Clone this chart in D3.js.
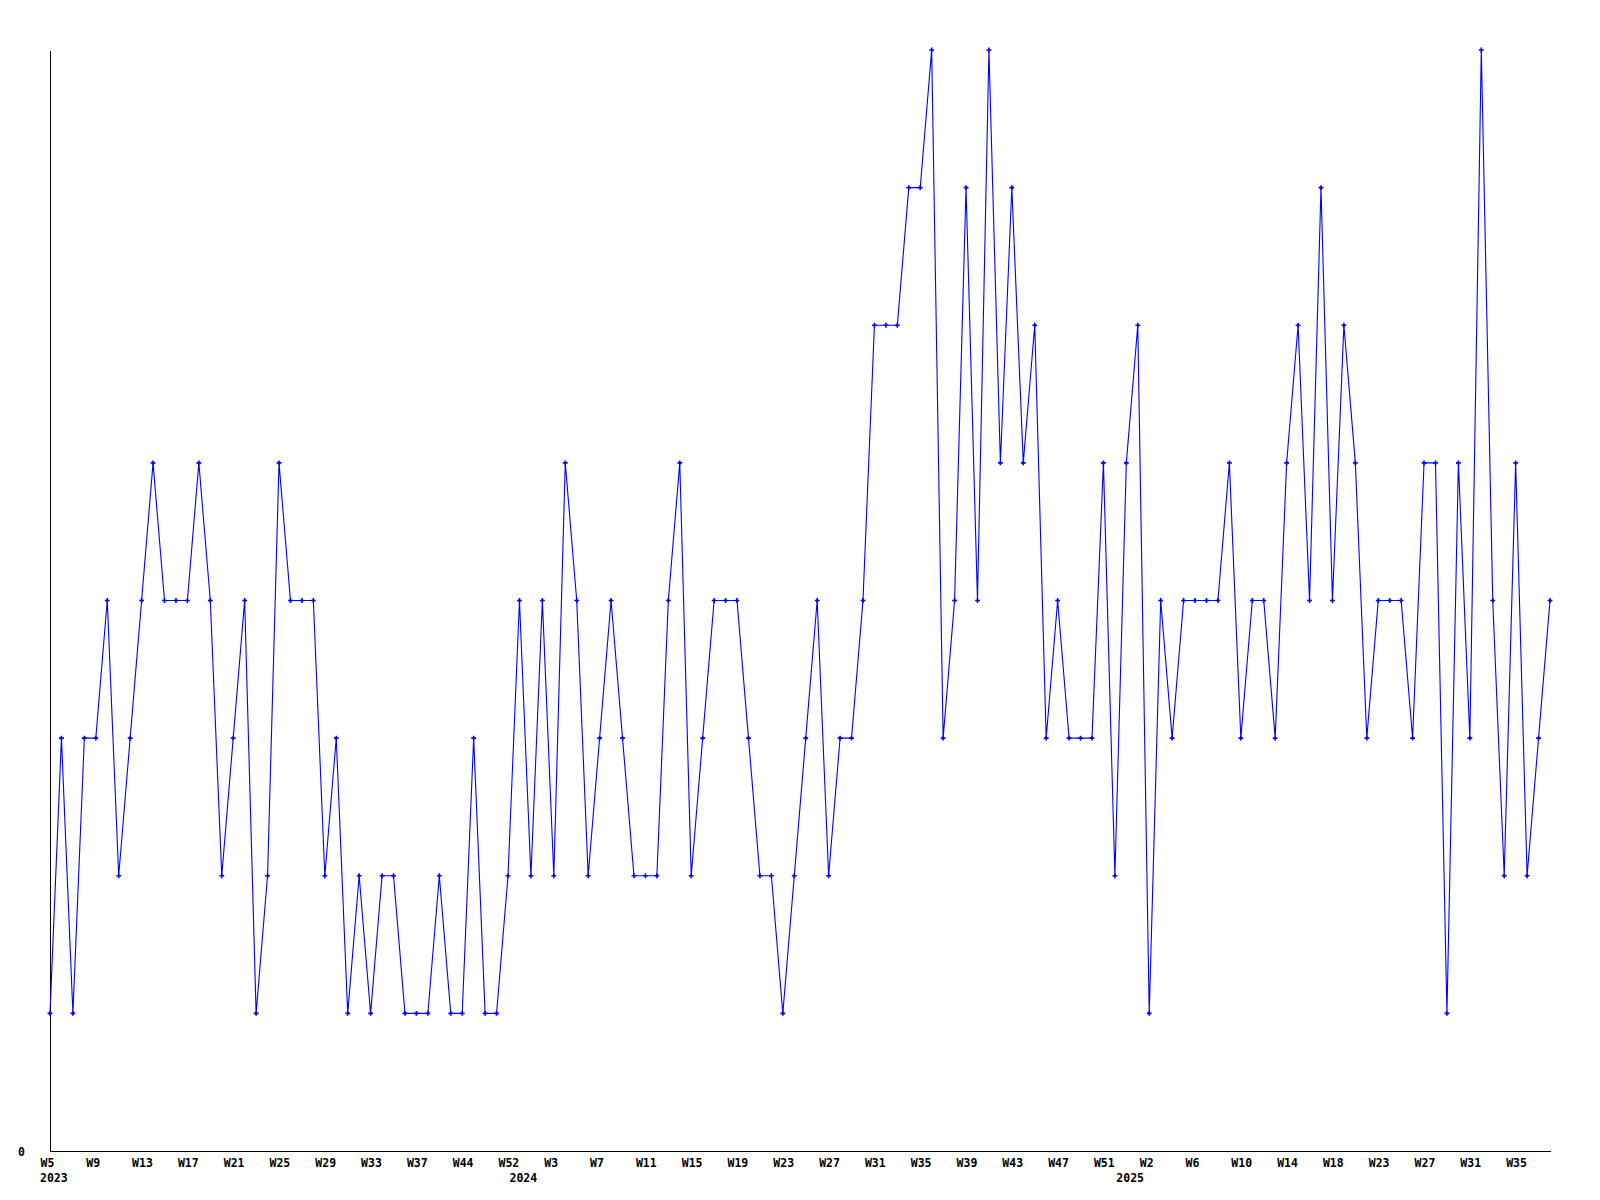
<!DOCTYPE html>
<html>
<head>
<meta charset="utf-8">
<script src="https://cdn.jsdelivr.net/npm/d3@7"></script>
<style>
  html, body { margin: 0; padding: 0; background: #fff; }
  .ticks text { font-family: "DejaVu Sans Mono", monospace; font-weight: bold; font-size: 11.5px; fill: #000; }
</style>
</head>
<body>
<div class="linechart"></div>
<script>
// week labels per year (some weeks are missing from the data)
const weeks2023 = ['W5', 'W6', 'W7', 'W8', 'W9', 'W10', 'W11', 'W12', 'W13', 'W14', 'W15', 'W16',
  'W17', 'W18', 'W19', 'W20', 'W21', 'W22', 'W23', 'W24', 'W25', 'W26', 'W27', 'W28',
  'W29', 'W30', 'W31', 'W32', 'W33', 'W34', 'W35', 'W36', 'W37', 'W38', 'W40', 'W42',
  'W44', 'W46', 'W48', 'W50', 'W52'];
const weeks2024 = ['W0', 'W1', 'W2', 'W3', 'W4', 'W5', 'W6', 'W7', 'W8', 'W9', 'W10', 'W11',
  'W12', 'W13', 'W14', 'W15', 'W16', 'W17', 'W18', 'W19', 'W20', 'W21', 'W22', 'W23',
  'W24', 'W25', 'W26', 'W27', 'W28', 'W29', 'W30', 'W31', 'W32', 'W33', 'W34', 'W35',
  'W36', 'W37', 'W38', 'W39', 'W40', 'W41', 'W42', 'W43', 'W44', 'W45', 'W46', 'W47',
  'W48', 'W49', 'W50', 'W51', 'W52'];
const weeks2025 = ['W0', 'W1', 'W2', 'W3', 'W4', 'W5', 'W6', 'W7', 'W8', 'W9', 'W10', 'W11',
  'W12', 'W13', 'W14', 'W15', 'W16', 'W17', 'W18', 'W19', 'W20', 'W22', 'W23', 'W24',
  'W25', 'W26', 'W27', 'W28', 'W29', 'W30', 'W31', 'W32', 'W33', 'W34', 'W35', 'W36',
  'W37', 'W38'];
const years = ['2023', '2024', '2025'];

// weekly counts
const counts = [
  1, 3, 1, 3, 3, 4, 2, 3, 4, 5, 4, 4, 4, 5, 4, 2, 3, 4, 1, 2,
  5, 4, 4, 4, 2, 3, 1, 2, 1, 2, 2, 1, 1, 1, 2, 1, 1, 3, 1, 1,
  2, 4, 2, 4, 2, 5, 4, 2, 3, 4, 3, 2, 2, 2, 4, 5, 2, 3, 4, 4,
  4, 3, 2, 2, 1, 2, 3, 4, 2, 3, 3, 4, 6, 6, 6, 7, 7, 8, 3, 4,
  7, 4, 8, 5, 7, 5, 6, 3, 4, 3, 3, 3, 5, 2, 5, 6, 1, 4, 3, 4,
  4, 4, 4, 5, 3, 4, 4, 3, 5, 6, 4, 7, 4, 6, 5, 3, 4, 4, 4, 3,
  5, 5, 1, 5, 3, 8, 4, 2, 5, 2, 3, 4
];
const yMax = 8;

const margin = {top: 50, left: 50, right: 50, bottom: 49};
const width = 1600;
const height = 1200;

let points = [];
[weeks2023, weeks2024, weeks2025].forEach((list, yi) => {
  list.forEach((w, wi) => {
    points.push({key: years[yi] + '-' + w, week: w, year: years[yi], first: wi === 0});
  });
});
points.forEach((p, i) => { p.value = counts[i]; });

let x = d3.scalePoint()
  .domain(points.map((d) => d.key))
  .range([margin.left, width - margin.right]);

let y = d3.scaleLinear()
  .domain([0, yMax])
  .range([height - margin.bottom, margin.top]);

let svg = d3.select('.linechart')
  .append('svg')
  .attr('width', width)
  .attr('height', height)
  .style('display', 'block')
  .style('background', '#fff');

// bottom axis: a week label every 4th point
let byKey = new Map(points.map((d) => [d.key, d]));
let xAxis = svg.append('g')
  .attr('class', 'ticks ticks-x')
  .attr('transform', 'translate(0,' + y(0) + ')')
  .call(d3.axisBottom(x)
    .tickValues(points.filter((d, i) => i % 4 === 0).map((d) => d.key))
    .tickFormat((k) => byKey.get(k).week)
    .tickSize(0)
    .tickPadding(0));
xAxis.select('.domain').attr('stroke', '#000').attr('shape-rendering', 'crispEdges');
xAxis.selectAll('.tick text')
  .attr('text-anchor', 'start')
  .attr('dx', -10)
  .attr('y', 16)
  .attr('dy', 0);

// year labels under the first week of each year
xAxis.selectAll('.year')
  .data(points.filter((d) => d.first))
  .enter().append('text')
  .attr('class', 'year')
  .attr('text-anchor', 'start')
  .attr('x', (d) => x(d.key) - 10)
  .attr('y', 31)
  .text((d) => d.year);

// left axis, only the zero label
let yAxis = svg.append('g')
  .attr('class', 'ticks ticks-y')
  .attr('transform', 'translate(' + margin.left + ',0)')
  .call(d3.axisLeft(y).tickValues([0]).tickSize(0).tickPadding(25));
yAxis.select('.domain').attr('stroke', '#000').attr('shape-rendering', 'crispEdges');
yAxis.selectAll('.tick text').attr('dy', '0.36em');

let drawLine = d3.line()
  .x((d) => x(d.key))
  .y((d) => y(d.value));

svg.append('path')
  .datum(points)
  .attr('fill', 'none')
  .attr('stroke', '#0000ff')
  .attr('stroke-width', 1.1)
  .attr('d', drawLine);

svg.append('g')
  .selectAll('path')
  .data(points)
  .enter().append('path')
  .attr('transform', (d) => 'translate(' + x(d.key) + ',' + y(d.value) + ')')
  .attr('d', d3.symbol().type(d3.symbolCross).size(13))
  .attr('fill', '#0000ff');
</script>
</body>
</html>
